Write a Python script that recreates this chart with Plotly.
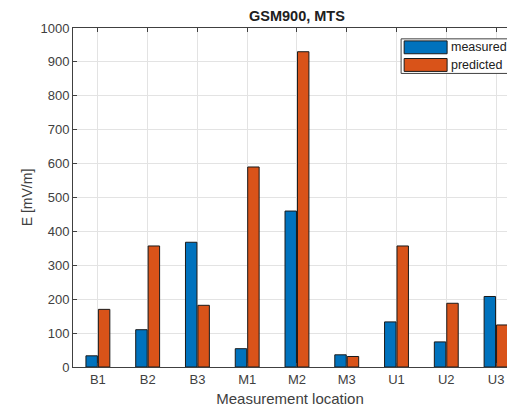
import plotly.graph_objects as go

categories = ["B1", "B2", "B3", "M1", "M2", "M3", "U1", "U2", "U3"]
measured = [33, 110, 368, 54, 460, 36, 133, 74, 208]
predicted = [170, 357, 182, 590, 930, 31, 357, 188, 124]
series_names = ["measured", "predicted"]
colors = ["#0072BD", "#D95319"]
y_ticks = [0, 100, 200, 300, 400, 500, 600, 700, 800, 900, 1000]

x_pos = list(range(1, len(categories) + 1))
FONT = "Liberation Sans, Arial, Helvetica, sans-serif"
TXT = "#404040"

fig = go.Figure()
for name, vals, col in zip(series_names, [measured, predicted], colors):
    fig.add_trace(go.Bar(x=x_pos, y=vals, name=name, marker=dict(color=col, line=dict(color="#1a1a1a", width=1)),
                         showlegend=False))

fig.update_layout(
    width=507, height=407,
    margin=dict(l=73, r=0, t=28, b=40),
    paper_bgcolor="white", plot_bgcolor="white",
    barmode="group", bargap=0.5, bargroupgap=0.08,
    font=dict(family=FONT, color=TXT, size=13),
    xaxis=dict(range=[0.5, 9.22], tickmode="array", tickvals=x_pos, ticktext=categories,
               showgrid=True, gridcolor="#e3e3e3", gridwidth=1,
               showline=True, linecolor="#404040", linewidth=1, mirror="ticks",
               ticks="inside", ticklen=4, tickcolor="#404040",
               tickfont=dict(size=13, color=TXT), automargin=False,
               title=dict(text="Measurement location", font=dict(size=15, color=TXT), standoff=9),
               zeroline=False),
    yaxis=dict(range=[0, 1000], tickmode="array", tickvals=y_ticks,
               showgrid=True, gridcolor="#e3e3e3", gridwidth=1,
               showline=True, linecolor="#404040", linewidth=1, mirror=False,
               ticks="inside", ticklen=4, tickcolor="#404040",
               tickfont=dict(size=13, color=TXT), automargin=False,
               title=dict(text="E [mV/m]", font=dict(size=14, color=TXT), standoff=4),
               zeroline=False),
)

# title centered over full (uncropped) plot area
fig.add_annotation(text="<b>GSM900, MTS</b>", x=5.0, xref="x", y=1.0, yref="paper",
                   yanchor="bottom", yshift=2, showarrow=False,
                   font=dict(size=14.5, color="#202020", family=FONT))

# manual legend (MATLAB style, wide swatches)
lx0, lx1 = 0.756, 1.02
fig.add_shape(type="rect", xref="paper", yref="paper", x0=lx0, x1=lx1, y0=0.866, y1=0.968,
              line=dict(color="#404040", width=1), fillcolor="white")
for i, (name, col) in enumerate(zip(series_names, colors)):
    yc = 0.943 - i * 0.052
    fig.add_shape(type="rect", xref="paper", yref="paper", x0=0.763, x1=0.862,
                  y0=yc - 0.019, y1=yc + 0.019, line=dict(color="#1a1a1a", width=1), fillcolor=col)
    fig.add_annotation(text=name, xref="paper", yref="paper", x=0.866, y=yc, xanchor="left",
                       yanchor="middle", showarrow=False, font=dict(size=12.5, color="#202020", family=FONT))

fig.write_html("out.html")
